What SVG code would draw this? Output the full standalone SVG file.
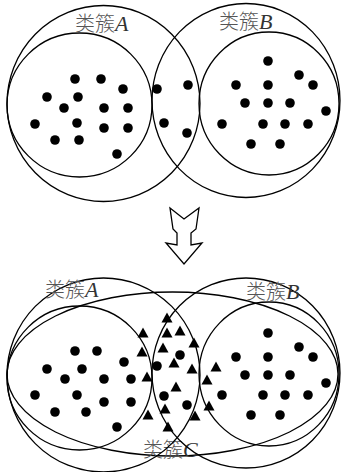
<svg xmlns="http://www.w3.org/2000/svg" width="344" height="472" viewBox="0 0 344 472">
<style>
.c{fill:none;stroke:#000;stroke-width:1.3}
.d{fill:#000}
.lbl{font-family:"Noto Sans CJK SC","Noto Sans CJK JP",sans-serif;font-size:20px;fill:#555;font-weight:300}
.it{font-family:"Liberation Serif",serif;font-style:italic;font-size:22px;fill:#333;font-weight:400}
</style>
<defs>
<circle id="dot" r="4.8" class="d"/>
<polygon id="tri" points="0,-5.5 5.5,4.5 -5.5,4.5" class="d"/>
</defs>

<g id="top">
  <g id="clusterA-top">
    <ellipse class="c" cx="103.5" cy="103.5" rx="96.5" ry="98"/>
    <ellipse class="c" cx="79.5" cy="105" rx="72.5" ry="72"/>
    <text x="75" y="31" class="lbl">类簇<tspan class="it">A</tspan></text>
  </g>
  <g id="clusterB-top">
    <ellipse class="c" cx="246" cy="100.5" rx="94" ry="97"/>
    <ellipse class="c" cx="269" cy="103.5" rx="70" ry="71.5"/>
    <text x="219" y="29" class="lbl">类簇<tspan class="it">B</tspan></text>
  </g>
  <g id="dots-top">
    <use href="#dot" x="75" y="79"/><use href="#dot" x="101" y="79"/><use href="#dot" x="123" y="89"/>
    <use href="#dot" x="47" y="97"/><use href="#dot" x="78" y="97"/><use href="#dot" x="64" y="108"/>
    <use href="#dot" x="104" y="108"/><use href="#dot" x="128" y="108"/><use href="#dot" x="35" y="124"/>
    <use href="#dot" x="77" y="123"/><use href="#dot" x="104" y="128"/><use href="#dot" x="128" y="128"/>
    <use href="#dot" x="55" y="140"/><use href="#dot" x="79" y="140"/><use href="#dot" x="117" y="154"/>
    <use href="#dot" x="157" y="89"/><use href="#dot" x="188" y="85"/><use href="#dot" x="164" y="123"/><use href="#dot" x="187" y="133"/>
    <use href="#dot" x="268" y="61"/><use href="#dot" x="299" y="75"/><use href="#dot" x="236" y="85"/>
    <use href="#dot" x="268" y="85"/><use href="#dot" x="313" y="85"/><use href="#dot" x="245" y="103"/>
    <use href="#dot" x="268" y="103"/><use href="#dot" x="290" y="103"/><use href="#dot" x="326" y="111"/>
    <use href="#dot" x="222" y="124"/><use href="#dot" x="263" y="124"/><use href="#dot" x="285" y="124"/>
    <use href="#dot" x="308" y="124"/><use href="#dot" x="251" y="144"/><use href="#dot" x="280" y="144"/>
  </g>
</g>

<g id="connectors">
  <polygon id="arrow" class="c" stroke-linejoin="miter" points="170,208 184,219 199,208 196,229 191,233 191,245 202,243 184,264 166,243 177,245 177,233 173,229"/>
</g>

<g id="bottom">
  <g id="clusterC-bottom">
    <ellipse class="c" cx="172.5" cy="374" rx="165.5" ry="82"/>
    <text x="143" y="457" class="lbl">类簇<tspan class="it">C</tspan></text>
  </g>
  <g id="clusterA-bottom">
    <ellipse class="c" cx="103.5" cy="375" rx="96.5" ry="97"/>
    <ellipse class="c" cx="79.5" cy="378" rx="72.5" ry="72"/>
    <text x="45" y="297" class="lbl">类簇<tspan class="it">A</tspan></text>
  </g>
  <g id="clusterB-bottom">
    <ellipse class="c" cx="246" cy="373" rx="94" ry="95"/>
    <ellipse class="c" cx="269" cy="374" rx="70" ry="72"/>
    <text x="246" y="299" class="lbl">类簇<tspan class="it">B</tspan></text>
  </g>
  <g id="dots-bottom">
    <use href="#dot" x="75" y="351"/><use href="#dot" x="97" y="351"/><use href="#dot" x="124" y="362"/>
    <use href="#dot" x="47" y="369"/><use href="#dot" x="82" y="369"/><use href="#dot" x="65" y="379"/>
    <use href="#dot" x="104" y="379"/><use href="#dot" x="131" y="379"/><use href="#dot" x="35" y="395"/>
    <use href="#dot" x="77" y="395"/><use href="#dot" x="104" y="402"/><use href="#dot" x="131" y="402"/>
    <use href="#dot" x="55" y="412"/><use href="#dot" x="86" y="412"/><use href="#dot" x="117" y="427"/>
    <use href="#dot" x="180" y="355"/><use href="#dot" x="157" y="366"/><use href="#dot" x="164" y="396"/><use href="#dot" x="187" y="405"/>
    <use href="#dot" x="268" y="333"/><use href="#dot" x="299" y="347"/><use href="#dot" x="236" y="357"/>
    <use href="#dot" x="268" y="357"/><use href="#dot" x="313" y="357"/><use href="#dot" x="245" y="375"/>
    <use href="#dot" x="268" y="375"/><use href="#dot" x="290" y="375"/><use href="#dot" x="326" y="383"/>
    <use href="#dot" x="222" y="395"/><use href="#dot" x="263" y="395"/><use href="#dot" x="285" y="395"/>
    <use href="#dot" x="308" y="395"/><use href="#dot" x="251" y="415"/><use href="#dot" x="280" y="415"/>
  </g>
  <g id="triangles">
    <use href="#tri" x="167" y="318"/><use href="#tri" x="143" y="333"/><use href="#tri" x="167" y="333"/>
    <use href="#tri" x="180" y="331"/><use href="#tri" x="194" y="343"/><use href="#tri" x="163" y="348"/>
    <use href="#tri" x="142" y="352"/><use href="#tri" x="174" y="363"/><use href="#tri" x="192" y="369"/>
    <use href="#tri" x="216" y="367"/><use href="#tri" x="147" y="377"/><use href="#tri" x="207" y="380"/>
    <use href="#tri" x="176" y="387"/><use href="#tri" x="165" y="409"/><use href="#tri" x="148" y="415"/>
    <use href="#tri" x="209" y="406"/><use href="#tri" x="195" y="416"/><use href="#tri" x="168" y="427"/>
  </g>
</g>
</svg>
